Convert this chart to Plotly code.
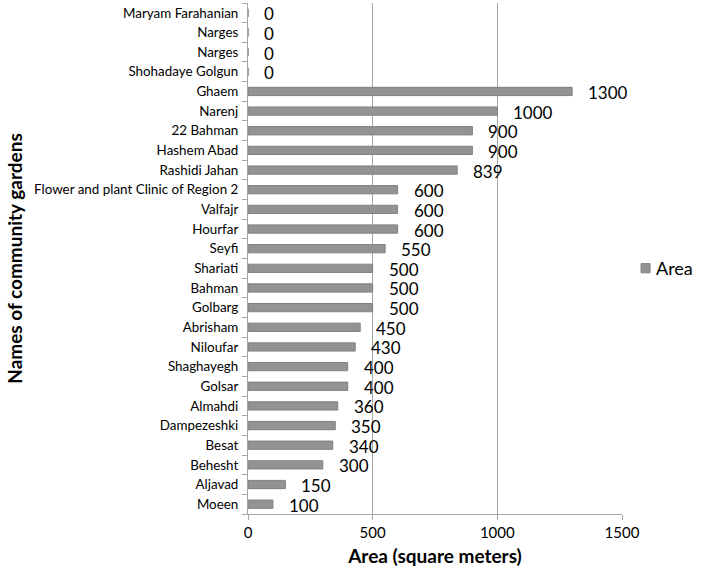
import plotly.graph_objects as go

gardens = ["Maryam Farahanian", "Narges", "Narges", "Shohadaye Golgun", "Ghaem", "Narenj",
           "22 Bahman", "Hashem Abad", "Rashidi Jahan", "Flower and plant Clinic of Region 2",
           "Valfajr", "Hourfar", "Seyfi", "Shariati", "Bahman", "Golbarg", "Abrisham",
           "Niloufar", "Shaghayegh", "Golsar", "Almahdi", "Dampezeshki", "Besat", "Behesht",
           "Aljavad", "Moeen"]
area = [0, 0, 0, 0, 1300, 1000, 900, 900, 839, 600, 600, 600, 550, 500, 500, 500, 450,
        430, 400, 400, 360, 350, 340, 300, 150, 100]
x_ticks = [0, 500, 1000, 1500]
series_name = "Area"

pos = list(range(len(gardens)))
FONT = "Lato, 'Open Sans', sans-serif"
BAR = "#939393"

fig = go.Figure()
fig.add_trace(go.Bar(
    x=area, y=pos, orientation="h", name=series_name,
    marker=dict(color=BAR, line=dict(color="#808080", width=1)),
    width=0.42, showlegend=False,
))

for p, v in zip(pos, area):
    fig.add_annotation(x=v, y=p, text=str(v), showarrow=False, xanchor="left",
                       xshift=14, yshift=-1, font=dict(size=17, color="#000", family=FONT))

# legend (drawn manually so it sits where the reference has it)
fig.add_shape(type="rect", xref="paper", yref="paper",
              x0=1.051, x1=1.075, y0=0.472, y1=0.49,
              fillcolor=BAR, line=dict(color="#808080", width=1))
fig.add_annotation(xref="paper", yref="paper", x=1.085, y=0.481, text=series_name,
                   showarrow=False, xanchor="left", yanchor="middle",
                   font=dict(size=18, family=FONT, color="#000"))

fig.update_layout(
    width=702, height=572,
    margin=dict(l=248, r=80, t=3, b=58, autoexpand=False),
    plot_bgcolor="white", paper_bgcolor="white",
    font=dict(family=FONT, color="#000"),
    showlegend=False,
    xaxis=dict(range=[0, 1500], tickvals=x_ticks, showgrid=True, gridcolor="#a6a6a6",
               gridwidth=1, showline=True, linecolor="#a6a6a6", ticks="outside",
               ticklen=5, tickcolor="#a6a6a6", tickfont=dict(size=15, family=FONT),
               title=dict(text="<b>Area (square meters)</b>", font=dict(size=19, family=FONT),
                          standoff=9),
               zeroline=False, fixedrange=True, automargin=False),
    yaxis=dict(range=[len(gardens) - 0.5, -0.5], tickvals=pos, ticktext=gardens,
               ticks="", showgrid=False, zeroline=False, showline=True,
               linecolor="#a6a6a6", tickfont=dict(size=13.4, family=FONT),
               ticklabelstandoff=6,
               minor=dict(tick0=0.5, dtick=1, ticks="outside", ticklen=5,
                          tickcolor="#a6a6a6", showgrid=False),
               title=dict(text="<b>Names of community gardens</b>",
                          font=dict(size=19, family=FONT), standoff=6),
               fixedrange=True, automargin=False),
)

fig.write_html("out.html", config={"displayModeBar": False},
               post_script="document.body.style.margin='0';")
